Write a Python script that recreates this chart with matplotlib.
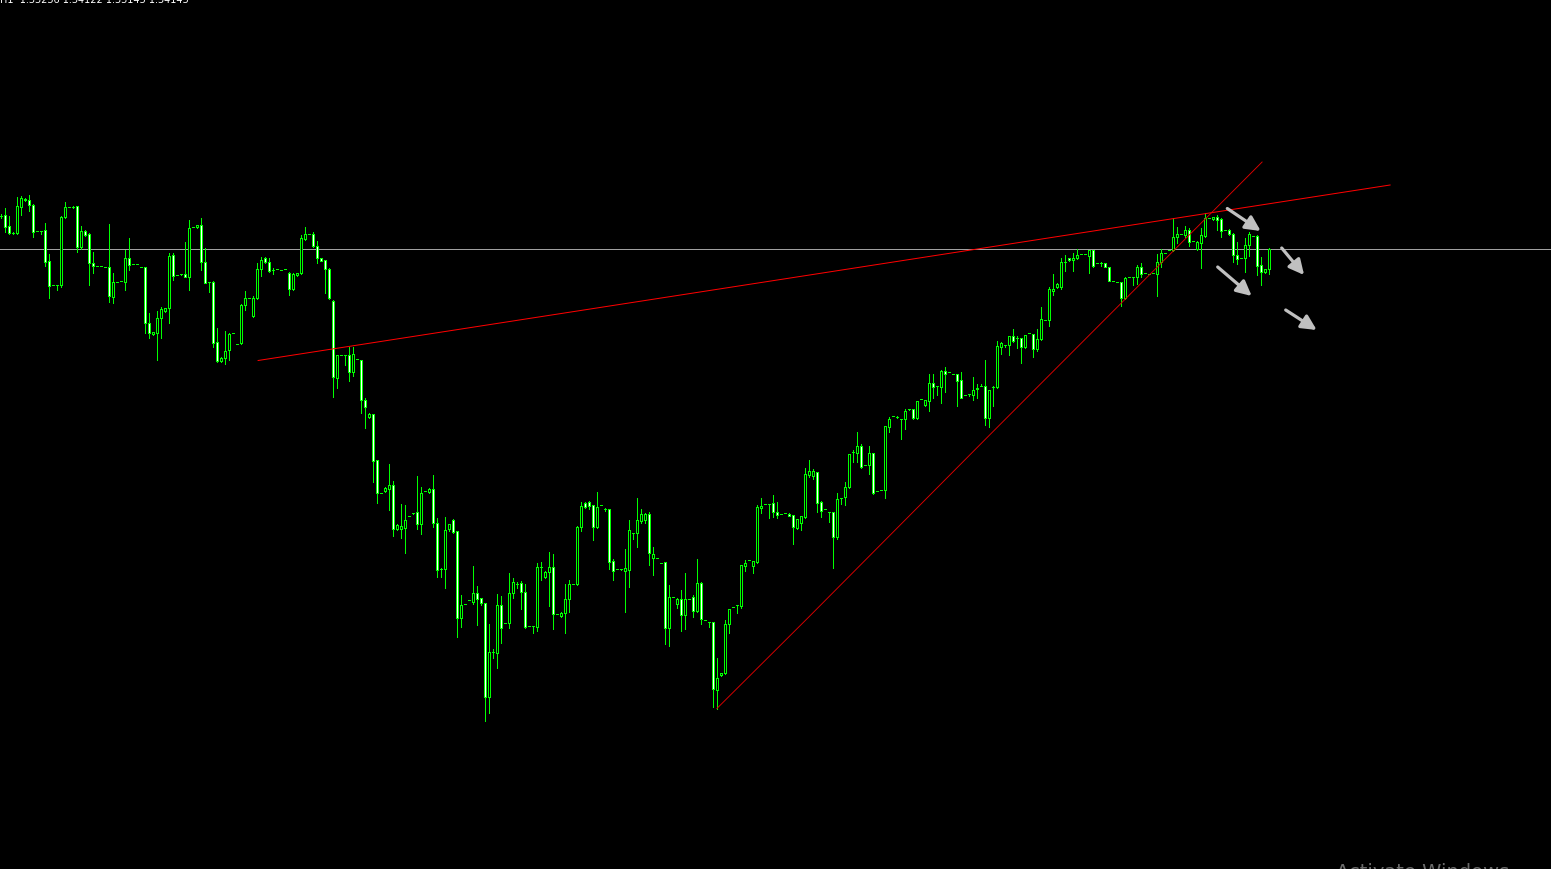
import numpy as np
import matplotlib
matplotlib.use("Agg")
import matplotlib.pyplot as plt

# candle values, in screen-y units (smaller = higher price)
OPEN = [
    216, 215, 226, 233, 233, 207, 200, 200, 205, 231,
    231, 230, 261, 285, 285, 285, 217, 207, 207, 206,
    247, 231, 234, 263, 266, 266, 267, 267, 297, 282,
    281, 282, 258, 264, 264, 267, 267, 323, 334, 333,
    318, 311, 308, 255, 275, 274, 274, 277, 227, 227,
    225, 262, 282, 282, 342, 361, 358, 350, 333, 344,
    343, 305, 298, 316, 298, 269, 258, 262, 270, 269,
    270, 269, 273, 289, 275, 273, 239, 234, 234, 246,
    258, 260, 269, 301, 378, 355, 355, 355, 372, 359,
    360, 400, 417, 414, 460, 493, 491, 489, 485, 529,
    529, 528, 516, 513, 512, 524, 491, 492, 489, 523,
    569, 569, 529, 520, 531, 618, 604, 600, 602, 593,
    598, 603, 697, 652, 653, 605, 623, 623, 593, 584,
    583, 592, 626, 626, 627, 567, 577, 572, 567, 614,
    616, 613, 599, 584, 584, 527, 503, 502, 505, 527,
    505, 509, 509, 561, 569, 569, 571, 570, 533, 533,
    521, 520, 514, 558, 558, 563, 562, 628, 597, 604,
    599, 615, 599, 597, 611, 583, 620, 622, 622, 690,
    675, 673, 624, 607, 605, 606, 566, 560, 566, 562,
    508, 504, 504, 503, 512, 514, 513, 514, 515, 528,
    523, 517, 475, 476, 472, 502, 509, 512, 512, 537,
    498, 497, 487, 452, 453, 446, 465, 465, 453, 491,
    490, 490, 427, 416, 417, 419, 419, 409, 409, 418,
    399, 405, 401, 383, 386, 387, 371, 372, 374, 374,
    380, 395, 394, 395, 389, 386, 386, 418, 387, 387,
    347, 345, 345, 336, 338, 338, 347, 333, 334, 349,
    339, 320, 320, 291, 287, 287, 262, 258, 260, 258,
    254, 254, 256, 250, 263, 263, 263, 267, 281, 282,
    282, 298, 277, 277, 277, 267, 273, 274, 273, 274,
    262, 253, 250, 250, 237, 234, 235, 230, 241, 249,
    243, 236, 218, 219, 217, 219, 230, 230, 234, 255,
    258, 258, 245, 236, 236, 265, 272, 269,
]
HIGH = [
    214, 208, 216, 232, 197, 196, 198, 195, 204, 231,
    231, 223, 254, 285, 285, 216, 202, 207, 206, 206,
    226, 230, 233, 252, 266, 266, 267, 224, 273, 282,
    281, 250, 238, 264, 264, 267, 267, 313, 333, 311,
    307, 308, 253, 253, 275, 274, 242, 220, 227, 225,
    218, 248, 282, 281, 328, 357, 331, 333, 333, 344,
    304, 291, 298, 296, 263, 257, 257, 258, 268, 269,
    270, 269, 272, 273, 273, 235, 227, 234, 232, 241,
    258, 260, 268, 300, 355, 355, 355, 347, 347, 359,
    360, 398, 413, 414, 460, 493, 487, 464, 481, 524,
    504, 505, 516, 513, 476, 487, 491, 488, 475, 518,
    568, 517, 524, 519, 531, 595, 604, 600, 566, 586,
    598, 603, 624, 649, 594, 596, 623, 573, 578, 582,
    581, 584, 626, 626, 563, 562, 571, 552, 554, 614,
    612, 584, 580, 584, 526, 502, 502, 501, 505, 492,
    505, 508, 509, 559, 569, 569, 549, 520, 533, 498,
    509, 513, 512, 547, 558, 563, 562, 585, 597, 598,
    590, 573, 599, 595, 559, 582, 620, 622, 622, 658,
    673, 620, 609, 607, 605, 565, 560, 560, 561, 505,
    498, 504, 504, 495, 502, 514, 513, 513, 515, 519,
    516, 468, 460, 469, 472, 501, 509, 512, 512, 493,
    498, 482, 454, 450, 432, 444, 465, 446, 453, 491,
    490, 426, 417, 416, 416, 419, 409, 409, 409, 401,
    399, 400, 374, 374, 386, 370, 367, 372, 374, 374,
    372, 395, 394, 377, 384, 384, 360, 390, 386, 341,
    342, 345, 336, 329, 336, 338, 335, 333, 334, 329,
    307, 320, 287, 274, 283, 258, 255, 258, 253, 249,
    254, 254, 250, 250, 263, 262, 263, 267, 281, 282,
    282, 277, 277, 277, 265, 263, 273, 274, 273, 254,
    249, 253, 250, 218, 227, 234, 226, 228, 241, 241,
    228, 213, 218, 217, 215, 218, 230, 229, 233, 242,
    258, 238, 232, 236, 235, 257, 269, 248,
]
LOW = [
    218, 232, 234, 234, 234, 215, 201, 211, 237, 231,
    234, 266, 298, 285, 290, 287, 218, 207, 208, 252,
    249, 236, 285, 273, 266, 266, 267, 302, 303, 282,
    281, 290, 270, 264, 264, 267, 333, 338, 335, 360,
    338, 312, 323, 280, 275, 275, 277, 290, 227, 228,
    270, 283, 292, 347, 362, 362, 364, 360, 333, 344,
    344, 310, 298, 317, 299, 276, 263, 272, 274, 269,
    270, 269, 295, 290, 276, 274, 240, 234, 247, 263,
    261, 293, 299, 397, 388, 355, 365, 381, 376, 359,
    413, 428, 418, 482, 503, 493, 492, 510, 536, 530,
    538, 553, 516, 514, 529, 534, 491, 493, 527, 577,
    577, 588, 531, 533, 637, 627, 604, 600, 604, 625,
    605, 721, 713, 658, 668, 643, 623, 628, 598, 588,
    609, 628, 626, 633, 631, 580, 578, 606, 629, 614,
    617, 633, 612, 584, 585, 531, 508, 509, 540, 528,
    505, 511, 569, 580, 569, 570, 612, 587, 539, 547,
    523, 523, 565, 575, 558, 563, 644, 646, 597, 608,
    631, 629, 599, 617, 612, 624, 620, 627, 707, 709,
    676, 674, 633, 607, 613, 608, 571, 560, 573, 563,
    513, 504, 518, 517, 518, 514, 513, 516, 544, 529,
    530, 518, 477, 479, 512, 517, 509, 522, 568, 539,
    504, 505, 488, 462, 462, 468, 465, 474, 494, 491,
    490, 498, 432, 416, 418, 439, 429, 410, 419, 419,
    399, 406, 411, 398, 395, 403, 392, 372, 374, 406,
    398, 395, 396, 400, 398, 386, 425, 427, 406, 388,
    354, 347, 355, 342, 348, 363, 348, 333, 357, 351,
    340, 320, 326, 295, 288, 289, 271, 261, 271, 259,
    254, 254, 273, 267, 263, 266, 267, 281, 281, 282,
    306, 299, 277, 285, 284, 277, 273, 274, 273, 296,
    267, 253, 250, 251, 243, 234, 237, 246, 241, 250,
    268, 237, 218, 220, 230, 237, 230, 235, 262, 264,
    258, 272, 256, 236, 275, 285, 273, 274,
]
CLOSE = [
    216, 227, 233, 233, 206, 198, 199, 205, 232, 231,
    231, 262, 286, 285, 285, 217, 207, 207, 207, 247,
    231, 235, 263, 266, 266, 266, 267, 296, 282, 282,
    281, 258, 265, 264, 264, 267, 323, 333, 332, 318,
    309, 308, 256, 276, 275, 274, 277, 228, 227, 225,
    262, 283, 282, 343, 361, 358, 351, 334, 333, 344,
    305, 298, 298, 298, 269, 260, 262, 271, 270, 269,
    270, 269, 289, 274, 273, 238, 234, 234, 246, 258,
    261, 269, 298, 377, 355, 355, 355, 372, 354, 359,
    400, 407, 414, 461, 493, 493, 488, 485, 529, 525,
    526, 520, 516, 513, 524, 493, 491, 489, 523, 570,
    569, 530, 524, 532, 618, 605, 604, 600, 593, 599,
    603, 697, 652, 652, 605, 628, 623, 593, 582, 584,
    592, 627, 626, 626, 567, 567, 572, 567, 614, 614,
    613, 599, 584, 584, 527, 506, 507, 506, 527, 507,
    505, 509, 562, 571, 569, 569, 568, 530, 533, 520,
    514, 514, 553, 554, 558, 563, 628, 597, 597, 599,
    615, 599, 599, 611, 583, 619, 620, 622, 689, 678,
    673, 624, 609, 607, 605, 565, 563, 560, 561, 507,
    506, 504, 504, 512, 515, 514, 513, 516, 527, 519,
    516, 474, 471, 471, 503, 511, 509, 512, 537, 499,
    498, 487, 454, 452, 446, 467, 465, 453, 493, 491,
    490, 426, 419, 416, 417, 419, 411, 409, 418, 401,
    399, 400, 383, 387, 386, 371, 374, 372, 374, 381,
    398, 395, 394, 390, 388, 386, 418, 390, 387, 346,
    343, 345, 336, 341, 338, 347, 335, 333, 349, 339,
    319, 320, 289, 289, 284, 262, 262, 260, 258, 255,
    254, 254, 250, 266, 263, 263, 267, 281, 281, 282,
    298, 278, 277, 277, 267, 274, 273, 274, 273, 262,
    253, 253, 250, 237, 234, 234, 230, 242, 241, 242,
    235, 218, 218, 217, 220, 231, 230, 234, 255, 259,
    258, 245, 234, 236, 266, 272, 269, 249,
]

# drawn objects (bar index, level)
RESIST_X = [64.2, 347.2]
RESIST_Y = [360.5, 185.0]
SUPPORT_X = [178.9, 201.75, 247.2, 315.2]
SUPPORT_Y = [708.5, 617.5, 434.5, 162.0]
HLINE_Y = 249.3
ARROWS = [
    ((306.5, 208.5), (314.85, 231.0)),
    ((320.1, 248.0), (325.7, 275.0)),
    ((304.1, 267.0), (312.6, 296.0)),
    ((321.1, 310.0), (328.85, 330.0)),
]

W, H = 1551, 869
fig = plt.figure(figsize=(W / 100, H / 100), dpi=100, facecolor="black")
ax = fig.add_axes([0, 0, 1, 1])
ax.set_facecolor("black")
ax.set_axis_off()

n = min(len(OPEN), len(HIGH), len(LOW), len(CLOSE))
x = np.arange(n)
o = np.array(OPEN[:n], float)
hi = np.array(HIGH[:n], float)
lo = np.array(LOW[:n], float)
c = np.array(CLOSE[:n], float)

lime = "#00ff00"
px = 0.72  # one pixel in points

# wicks
ax.vlines(x, hi, lo, colors=lime, linewidth=px, antialiased=False, zorder=2)

# bodies: bull hollow (black), bear filled white, lime outline
bull = c <= o
fill = np.where(bull, "black", "white")
ax.bar(x, np.abs(c - o), bottom=np.minimum(o, c), width=0.5, color=fill,
       edgecolor=lime, linewidth=px, antialiased=False, zorder=3)

# horizontal level
ax.axhline(HLINE_Y, color="#a0a0a0", linewidth=px, zorder=1)

# trend lines
ax.plot(RESIST_X, RESIST_Y, color="#ff0000", linewidth=px, zorder=4)
ax.plot(SUPPORT_X, SUPPORT_Y, color="#e00000", linewidth=px * 0.9, zorder=4)

# arrows
for (start, end) in ARROWS:
    ax.annotate("", xy=end, xytext=start,
                arrowprops=dict(arrowstyle="-|>,head_length=0.9,head_width=0.45",
                                color="#c0c0c0", lw=2.3, shrinkA=0, shrinkB=0),
                zorder=5)

ax.set_xlim(-1.3 / 4, (W - 1.3) / 4)
ax.set_ylim(H, 0)

# header and watermark text, partly outside the frame as in the screenshot
fig.text(0.0, 1 - 3 / H, "H1  1.33236 1.34122 1.33145 1.34145", color="white",
         fontsize=7, va="baseline", ha="left")
fig.text(1336 / W, 6 / H, "Activate Windows", color="#6a6a6a",
         fontsize=14, va="top", ha="left")

fig.savefig("out.png", dpi=100, facecolor="black")
